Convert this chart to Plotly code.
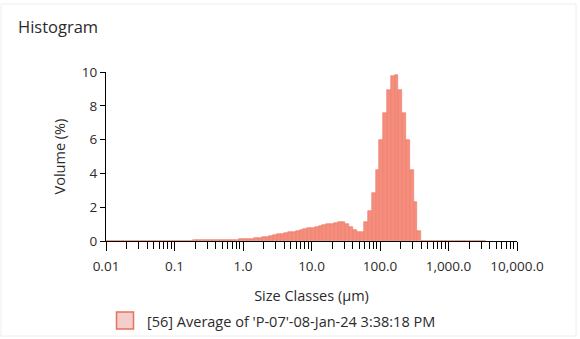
import numpy as np
import plotly.graph_objects as go

# Size classes (Mastersizer-style: 100 log-spaced classes, 0.01 - 3500 um)
class_edges_um = 0.01 * (3500 / 0.01) ** (np.arange(101) / 100)

# Volume (%) per size class (bins 0..99)
volume_pct = [
    0.02, 0.02, 0.02, 0.02, 0.02, 0.02, 0.02, 0.02, 0.02, 0.02,
    0.02, 0.02, 0.02, 0.02, 0.02, 0.02, 0.02, 0.02, 0.02, 0.02,
    0.02, 0.02, 0.02, 0.03, 0.03, 0.03, 0.04, 0.04, 0.05, 0.05,
    0.06, 0.06, 0.07, 0.07, 0.08, 0.09, 0.10, 0.11, 0.13, 0.16,
    0.19, 0.22, 0.26, 0.30, 0.35, 0.40, 0.44, 0.48, 0.52, 0.56,
    0.60, 0.65, 0.70, 0.74, 0.78, 0.82, 0.87, 0.92, 0.98, 1.03,
    1.08, 1.10, 1.10, 1.02, 0.85, 0.65, 0.55, 0.55, 1.10, 1.75,
    2.85, 4.20, 6.00, 7.60, 8.95, 9.75, 9.85, 8.95, 7.60, 6.00,
    4.20, 2.30, 0.60, 0.00, 0.00, 0.00, 0.00, 0.00, 0.00, 0.00,
    0.00, 0.00, 0.00, 0.00, 0.00, 0.00, 0.00, 0.00, 0.00, 0.00,
]

x_tick_values = [0.01, 0.1, 1.0, 10.0, 100.0, 1000.0, 10000.0]
x_tick_labels = ["0.01", "0.1", "1.0", "10.0", "100.0", "1,000.0", "10,000.0"]
y_tick_values = [0, 2, 4, 6, 8, 10]
series_name = "[56] Average of 'P-07'-08-Jan-24 3:38:18 PM"

log_edges = np.log10(class_edges_um)
centers = (log_edges[:-1] + log_edges[1:]) / 2
widths = log_edges[1:] - log_edges[:-1]

minor_vals = [np.log10(k * 10.0 ** d) for d in range(-2, 4) for k in range(2, 10)]

FONT = "Open Sans"
TXT = "#2b2b2b"
BAR_FILL = "#F58E7C"
BAR_LINE = "#EC7A69"

# plot area in pixels: x 106..517, y 72..241
PW, PH = 411, 169


def px(xp):
    return (xp - 106) / PW


def py(yp):
    return (241 - yp) / PH


fig = go.Figure()
fig.add_trace(go.Bar(
    x=centers, y=volume_pct, width=widths,
    marker=dict(color=BAR_FILL, line=dict(color=BAR_LINE, width=0.6)),
    showlegend=False, name=series_name, hoverinfo="skip",
))

fig.update_layout(
    width=580, height=339,
    margin=dict(l=106, r=63, t=72, b=98),
    paper_bgcolor="white", plot_bgcolor="white",
    font=dict(family=FONT, size=13, color=TXT),
    bargap=0,
    showlegend=False,
    title=dict(text="Histogram", x=18 / 580, xanchor="left", y=1 - 27 / 339,
               yanchor="middle", font=dict(family=FONT, size=16.5, color=TXT)),
    xaxis=dict(
        range=[-2, 4], tickmode="array",
        tickvals=[np.log10(v) for v in x_tick_values], ticktext=x_tick_labels,
        ticks="outside", ticklen=9, tickcolor="black", tickwidth=1,
        ticklabelstandoff=4, automargin=False,
        showline=True, linecolor="black", linewidth=1, showgrid=False, zeroline=False,
        minor=dict(tickmode="array", tickvals=minor_vals, ticks="outside",
                   ticklen=7, tickcolor="black", tickwidth=1, showgrid=False),
        tickfont=dict(family=FONT, size=13.5, color=TXT),
        title=dict(text="Size Classes (µm)", standoff=16,
                   font=dict(family=FONT, size=14.5, color=TXT)),
    ),
    yaxis=dict(
        range=[0, 10], tickvals=y_tick_values, automargin=False,
        ticks="outside", ticklen=5, tickcolor="black", tickwidth=1,
        showline=True, linecolor="black", linewidth=1, showgrid=False, zeroline=False,
        tickfont=dict(family=FONT, size=13.5, color=TXT),
        title=dict(text="Volume (%)", standoff=12,
                   font=dict(family=FONT, size=14.5, color=TXT)),
    ),
    shapes=[
        dict(type="rect", xref="paper", yref="paper", x0=px(1), x1=px(576),
             y0=py(336), y1=py(4), line=dict(color="#EEEEEE", width=1)),
        # legend key
        dict(type="rect", xref="paper", yref="paper", x0=px(116.5), x1=px(133.5),
             y0=py(329), y1=py(312), fillcolor="#F3CFCB",
             line=dict(color="#E8705F", width=1.5)),
    ],
    annotations=[
        dict(text=series_name, xref="paper", yref="paper", x=px(145), y=py(321),
             xanchor="left", yanchor="middle", showarrow=False,
             font=dict(family=FONT, size=14.5, color=TXT)),
    ],
)

fig.write_html("out.html")
